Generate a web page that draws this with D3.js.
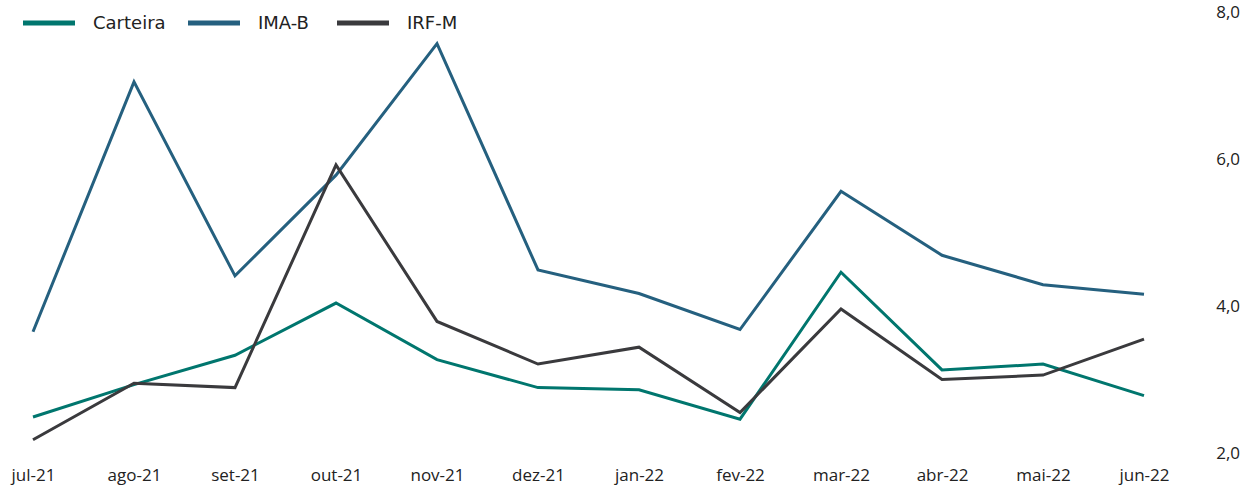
<!DOCTYPE html>
<html>
<head>
<meta charset="utf-8">
<script src="https://cdn.jsdelivr.net/npm/d3@7"></script>
<style>
  body { margin: 0; background: #fff; }
  svg text { fill: #222; }
</style>
</head>
<body>
<div class="chart"></div>
<script>
"use strict";

var months = ['jul-21', 'ago-21', 'set-21', 'out-21', 'nov-21', 'dez-21', 'jan-22', 'fev-22', 'mar-22', 'abr-22', 'mai-22', 'jun-22']
var carteira = [2.49, 2.93, 3.33, 4.04, 3.27, 2.89, 2.86, 2.46, 4.46, 3.13, 3.21, 2.78]
var imaB = [3.65, 7.05, 4.41, 5.78, 7.57, 4.49, 4.17, 3.68, 5.56, 4.69, 4.29, 4.16]
var irfM = [2.18, 2.95, 2.89, 5.92, 3.79, 3.21, 3.44, 2.55, 3.96, 3.00, 3.06, 3.55]
var yTicks = [2, 4, 6, 8]

var seriesNames = ['Carteira', 'IMA-B', 'IRF-M']
var seriesColors = ['#00766e', '#25607f', '#3a3a3d']

var width = 1243
var height = 488

var svg = d3.select('div.chart').append('svg')
    .attr('width', width)
    .attr('height', height)

var x = d3.scalePoint()
    .domain(months)
    .range([33, 1144])

var y = d3.scaleLinear()
    .domain([2, 8])
    .range([453, 12])

// Y axis on the right, labels only
var yAxis = svg.append('g')
    .attr('transform', 'translate(1240,0)')
    .call(d3.axisRight(y).tickValues(yTicks).tickSize(0).tickPadding(0)
        .tickFormat(d => d3.format('.1f')(d).replace('.', ',')))
yAxis.select('.domain').remove()
yAxis.selectAll('text')
    .attr('text-anchor', 'end')
    .attr('dy', '0.35em')
    .attr('font-family', 'Open Sans, Noto Sans, sans-serif')
    .attr('font-size', 17)
    .attr('fill', '#222')

// X axis, labels only
var xAxis = svg.append('g')
    .attr('transform', 'translate(0,475)')
    .call(d3.axisBottom(x).tickSize(0).tickPadding(0))
xAxis.select('.domain').remove()
xAxis.selectAll('text')
    .attr('dy', '0.35em')
    .attr('font-family', 'Open Sans, Noto Sans, sans-serif')
    .attr('font-size', 17)
    .attr('fill', '#222')

var allSeries = [carteira, imaB, irfM]

var line = d3.line()
    .x((d, i) => x(months[i]))
    .y(d => y(d))

// draw IMA-B first, then Carteira, then IRF-M on top
;[1, 0, 2].forEach(function (k) {
    svg.append('path')
        .datum(allSeries[k])
        .attr('d', line)
        .attr('fill', 'none')
        .attr('stroke', seriesColors[k])
        .attr('stroke-width', 3)
        .attr('stroke-linejoin', 'miter')
})

// Legend
var legendX = [23, 188, 337]
seriesNames.forEach(function (name, i) {
    var g = svg.append('g').attr('transform', 'translate(' + legendX[i] + ',23)')
    g.append('line')
        .attr('x1', 0).attr('x2', 52)
        .attr('y1', 0).attr('y2', 0)
        .attr('stroke', seriesColors[i])
        .attr('stroke-width', 5)
    g.append('text')
        .text(name)
        .attr('x', 70)
        .attr('y', 0)
        .attr('dy', '0.35em')
        .attr('font-family', 'DejaVu Sans, Verdana, sans-serif')
        .attr('font-size', 18)
        .attr('fill', '#333')
})
</script>
</body>
</html>
